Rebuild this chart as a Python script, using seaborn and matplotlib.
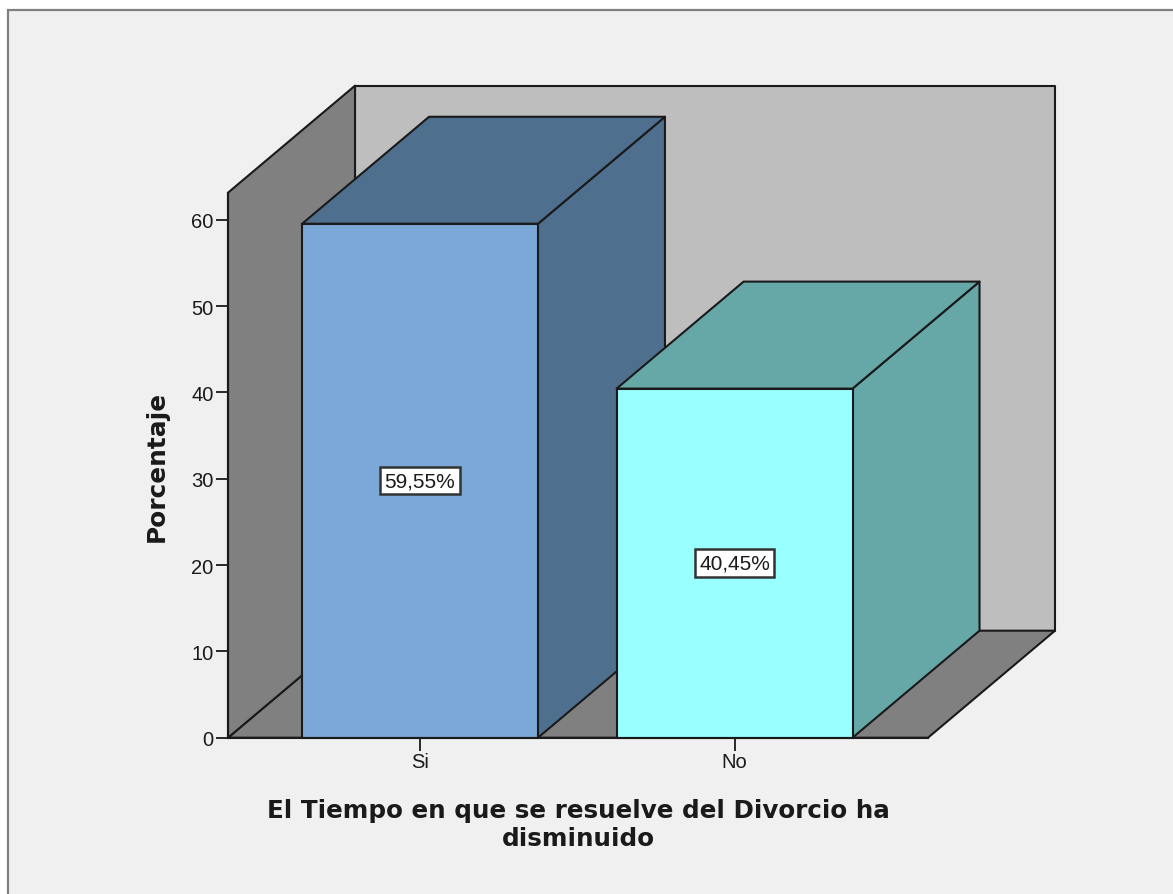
import pandas as pd
import matplotlib
matplotlib.use("Agg")
import matplotlib.pyplot as plt
import seaborn as sns
from matplotlib.patches import Polygon, Rectangle

categories = ["Si", "No"]
percentages = [59.55, 40.45]
value_labels = ["59,55%", "40,45%"]
y_ticks = [0, 10, 20, 30, 40, 50, 60]
front_colors = ["#7ba8d6", "#99ffff"]
depth_colors = ["#4f6f8f", "#66a8a8"]

W, H = 1173, 895
PANEL = "#f0f0f0"
INK = "#1a1a1a"

sns.set_theme(style="white")
plt.rcParams["font.family"] = ["Liberation Sans", "DejaVu Sans"]

fig = plt.figure(figsize=(W / 100, H / 100), dpi=100, facecolor="white")
fig.add_artist(Rectangle((8 / W, -0.02), 1.1, 1 - 11 / H + 0.02, transform=fig.transFigure,
                         facecolor=PANEL, edgecolor="#808080", linewidth=1.6, zorder=-1))
ax = fig.add_axes([228 / W, (H - 738.7) / H, 700 / W, 545 / H])
ax.patch.set_alpha(0)

df = pd.DataFrame({"cat": categories, "pct": percentages})
sns.barplot(data=df, x="cat", y="pct", hue="cat", palette=front_colors, width=0.75,
            saturation=1, legend=False, edgecolor=INK, linewidth=1.5, ax=ax, zorder=4)

ax.set_xlim(-0.6105, 1.615)
ax.set_ylim(0, 63.15)

# depth of the fake 3D box, in data units
x0, x1 = ax.get_xlim()
y0, y1 = ax.get_ylim()
dx = 127 / 700 * (x1 - x0)
dy = 107 / 545 * (y1 - y0)


def face(points, color, z):
    ax.add_patch(Polygon(points, closed=True, facecolor=color, edgecolor=INK, linewidth=1.5,
                         joinstyle="round", clip_on=False, zorder=z))


face([(x0 + dx, y0 + dy), (x1 + dx, y0 + dy), (x1 + dx, y1 + dy), (x0 + dx, y1 + dy)], "#bebebe", 1)
face([(x0, y0), (x1, y0), (x1 + dx, y0 + dy), (x0 + dx, y0 + dy)], "#808080", 1.5)
face([(x0, y0), (x0 + dx, y0 + dy), (x0 + dx, y1 + dy), (x0, y1)], "#808080", 1.6)

# side and top of each bar, nearer bars over the farther ones
for i, container in enumerate(ax.containers):
    bar = container[0]
    left, right = bar.get_x(), bar.get_x() + bar.get_width()
    top = bar.get_height()
    z = 3 + 2 * i
    face([(right, 0), (right + dx, dy), (right + dx, top + dy), (right, top)], depth_colors[i], z)
    face([(left, top), (right, top), (right + dx, top + dy), (left + dx, top + dy)], depth_colors[i], z)
    bar.set_zorder(z + 1)
    bar.set_clip_on(False)
    ax.bar_label(container, labels=[value_labels[i]], label_type="center", fontsize=15, color=INK,
                 zorder=10,
                 bbox=dict(boxstyle="square,pad=0.2", facecolor="white", edgecolor="#333333", linewidth=1.8))

ax.set_yticks(y_ticks)
ax.tick_params(axis="both", direction="out", length=9, width=1.3, color=INK, labelsize=14.5,
               labelcolor=INK, pad=1.5, left=True, bottom=True)
for name, spine in ax.spines.items():
    spine.set_visible(name in ("left", "bottom"))
    spine.set_color(INK)
    spine.set_linewidth(1.5)
    spine.set_zorder(20)

ax.set_xlabel("")
ax.set_ylabel("")
fig.text(157 / W, 1 - 466 / H, "Porcentaje", rotation=90, ha="center", va="center",
         fontsize=17.8, fontweight="bold", color=INK, family="DejaVu Sans")
fig.text(578 / W, 1 - 825 / H, "El Tiempo en que se resuelve del Divorcio ha\ndisminuido",
         ha="center", va="center", fontsize=17.7, fontweight="bold", color=INK, linespacing=1.19,
         family="DejaVu Sans")

fig.savefig("out.png", dpi=100, facecolor=fig.get_facecolor())
